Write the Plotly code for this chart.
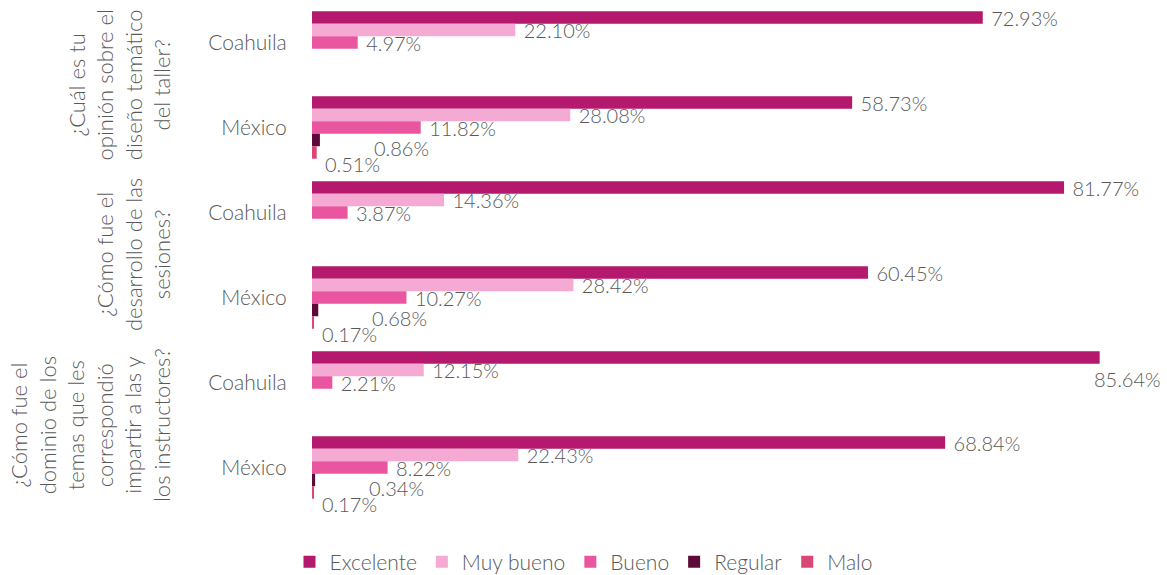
import plotly.graph_objects as go

questions = [
    "¿Cuál es tu<br>opinión sobre el<br>diseño temático<br>del taller?",
    "¿Cómo fue el<br>desarrollo de las<br>sesiones?",
    "¿Cómo fue el<br>dominio de los<br>temas que les<br>correspondió<br>impartir a las y<br>los instructores?",
]
regions = ["Coahuila", "México"]
categories = ["Q1-Coahuila", "Q1-México", "Q2-Coahuila", "Q2-México", "Q3-Coahuila", "Q3-México"]
tick_labels = ["Coahuila", "México", "Coahuila", "México", "Coahuila", "México"]

series_names = ["Excelente", "Muy bueno", "Bueno", "Regular", "Malo"]
excelente = [72.93, 58.73, 81.77, 60.45, 85.64, 68.84]
muy_bueno = [22.10, 28.08, 14.36, 28.42, 12.15, 22.43]
bueno = [4.97, 11.82, 3.87, 10.27, 2.21, 8.22]
regular = [None, 0.86, None, 0.68, None, 0.34]
malo = [None, 0.51, None, 0.17, None, 0.17]
series_values = [excelente, muy_bueno, bueno, regular, malo]
colors = ["#B5196E", "#F4AAD2", "#E9559F", "#5C0A3A", "#D94775"]

X_MAX = 92.2
OVERFLOW = 84.0  # labels beyond this would leave the plot; drawn below the bar end

# label placement for the tiny bars (pixel offsets from bar end / category centre)
small_label_offsets = {"Regular": (52, -20), "Malo": (6, -36)}

font_family = "Lato, Open Sans, Liberation Sans, sans-serif"
gray = "#595959"
NB = "\u00a0"
label_font = dict(family=font_family, size=20, color=gray, weight=300)

fig = go.Figure()
for name, vals, col in zip(series_names, series_values, colors):
    texts = []
    for v in vals:
        if v is None or v > OVERFLOW or name in small_label_offsets:
            texts.append("")
        else:
            texts.append(f"{NB}{v:.2f}%")
    fig.add_trace(go.Bar(
        name=name,
        y=categories,
        x=vals,
        orientation="h",
        marker=dict(color=col, line=dict(width=0)),
        text=texts,
        textposition="outside",
        constraintext="none",
        cliponaxis=False,
        textfont=label_font,
    ))

for name, vals in zip(series_names, series_values):
    for cat, v in zip(categories, vals):
        if v is None:
            continue
        if v > OVERFLOW:
            # labels that do not fit on the right are placed under the bar end
            fig.add_annotation(
                text=f"{v:.2f}%", xref="x", yref="y", x=v, y=cat,
                xanchor="left", yanchor="middle", xshift=-8, yshift=4,
                showarrow=False, font=label_font,
            )
        elif name in small_label_offsets:
            dx, dy = small_label_offsets[name]
            fig.add_annotation(
                text=f"{v:.2f}%", xref="x", yref="y", x=v, y=cat,
                xanchor="left", yanchor="middle", xshift=dx, yshift=dy,
                showarrow=False, font=label_font,
            )

for i, q in enumerate(questions):
    fig.add_annotation(
        text=q,
        xref="paper", yref="y",
        x=0, y=2 * i + 0.5,
        xanchor="right", yanchor="middle",
        xshift=-135,
        textangle=-90,
        showarrow=False,
        align="center",
        font=dict(family=font_family, size=22, color=gray, weight=300),
    )

fig.update_layout(
    width=1167, height=575,
    margin=dict(l=312, r=7, t=0, b=65),
    plot_bgcolor="white", paper_bgcolor="white",
    barmode="group",
    bargap=0.265, bargroupgap=0,
    showlegend=True,
    legend=dict(
        orientation="h",
        x=0.5, xref="container", xanchor="center",
        y=0.058, yref="container", yanchor="top",
        font=dict(family=font_family, size=21, color=gray, weight=300),
        itemwidth=30,
    ),
    xaxis=dict(
        range=[0, X_MAX], showgrid=False, zeroline=False,
        showticklabels=False, showline=False, ticks="",
    ),
    yaxis=dict(
        categoryorder="array", categoryarray=categories,
        tickmode="array", tickvals=categories, ticktext=tick_labels,
        autorange="reversed",
        showgrid=False, zeroline=False, showline=False,
        ticks="outside", ticklen=20, tickcolor="rgba(0,0,0,0)",
        tickfont=dict(family=font_family, size=21, color=gray, weight=300),
    ),
)

fig.write_html(
    "out.html",
    config={"displayModeBar": False},
    post_script="document.body.style.margin='0px';document.body.style.overflow='hidden';",
)
